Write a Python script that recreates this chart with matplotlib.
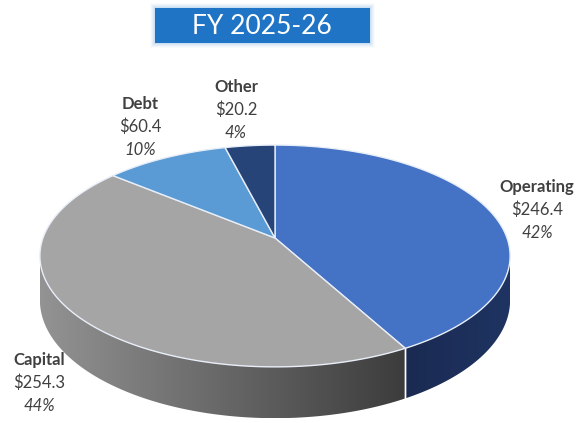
import numpy as np
import matplotlib.pyplot as plt
from matplotlib.patches import Polygon, FancyBboxPatch
from matplotlib.colors import to_rgb

# data
categories = ["Operating", "Capital", "Debt", "Other"]
amounts = [246.4, 254.3, 60.4, 20.2]
percents = [42, 44, 10, 4]
title = "FY 2025-26"

top_colors = ["#4472C4", "#A5A5A5", "#5B9BD5", "#264478"]
side_colors = [("#1A2A52", "#1F3462"), ("#939393", "#3C3C3C"),
               ("#4A84BC", "#3A6EA5"), ("#1E3764", "#1E3764")]

# pie geometry in pixel space (y grows downward)
CX, CY = 275, 238
A, B = 232, 108
P = 0.162          # perspective strength
DEPTH = 43
FONT = "Lato"
TEXT_COLOR = "#404040"


def project(phi, drop=0.0):
    # phi: clockwise angle from 12 o'clock, radians
    u, v = np.sin(phi), np.cos(phi)
    w = 1 + P * v
    x = CX + A * u / w
    y = CY - B * v / w + drop * DEPTH / w
    return x, y


fig = plt.figure(figsize=(5.76, 4.23), dpi=100)
ax = fig.add_axes([0, 0, 1, 1])
ax.set_xlim(0, 576)
ax.set_ylim(423, 0)
ax.axis("off")

shares = np.array(percents, dtype=float) / sum(percents)
bounds = np.concatenate([[0], np.cumsum(shares)]) * 2 * np.pi
front_lo = np.arccos(-P)
front_hi = 2 * np.pi - front_lo

# side walls
for i in range(len(categories)):
    lo = max(bounds[i], front_lo)
    hi = min(bounds[i + 1], front_hi)
    if hi <= lo:
        continue
    phi = np.linspace(lo, hi, 120)
    xt, yt = project(phi)
    xb, yb = project(phi[::-1], drop=1.0)
    pts = np.column_stack([np.concatenate([xt, xb]), np.concatenate([yt, yb])])
    wall = Polygon(pts, closed=True, facecolor="none", edgecolor="none")
    ax.add_patch(wall)
    c0, c1 = np.array(to_rgb(side_colors[i][0])), np.array(to_rgb(side_colors[i][1]))
    t = np.linspace(0, 1, 256)[None, :, None]
    grad = c0 + (c1 - c0) * t
    xmin, xmax = pts[:, 0].min(), pts[:, 0].max()
    ymin, ymax = pts[:, 1].min(), pts[:, 1].max()
    im = ax.imshow(grad, extent=(xmin, xmax, ymax, ymin), aspect="auto",
                   interpolation="bilinear", zorder=1)
    im.set_clip_path(wall)
    # white seam where a slice boundary sits on the front wall
    for edge in (bounds[i], bounds[i + 1]):
        if front_lo < edge < front_hi:
            x0, y0 = project(edge)
            x1, y1 = project(edge, drop=1.0)
            ax.plot([x0, x1], [y0, y1], color="white", lw=1.0, zorder=2)

# top faces
for i in range(len(categories)):
    phi = np.linspace(bounds[i], bounds[i + 1], 150)
    xs, ys = project(phi)
    pts = np.column_stack([np.concatenate([[CX], xs]), np.concatenate([[CY], ys])])
    ax.add_patch(Polygon(pts, closed=True, facecolor=top_colors[i],
                         edgecolor="#E8EEF8", lw=1.0, zorder=3))

# data labels
label_pos = [(537, 187), (39, 360), (140, 104), (236, 87)]
for i, (lx, ly) in enumerate(label_pos):
    ax.text(lx, ly, categories[i], ha="center", va="center", fontsize=12,
            fontweight="bold", color=TEXT_COLOR, family=FONT, zorder=5)
    ax.text(lx, ly + 23, f"${amounts[i]:.1f}", ha="center", va="center",
            fontsize=12, color=TEXT_COLOR, family=FONT, zorder=5)
    ax.text(lx, ly + 46, f"{percents[i]}%", ha="center", va="center",
            fontsize=12, style="italic", color=TEXT_COLOR, family=FONT, zorder=5)

# title box with a soft glow
for k, alpha in zip(range(5, 0, -1), [0.05, 0.08, 0.12, 0.16, 0.22]):
    ax.add_patch(FancyBboxPatch((155 - k, 8 - k), 215 + 2 * k, 35 + 2 * k,
                                boxstyle="square,pad=0", facecolor="#9CC3E8",
                                edgecolor="none", alpha=alpha, zorder=4))
ax.add_patch(FancyBboxPatch((155, 8), 215, 35, boxstyle="square,pad=0",
                            facecolor="#1F74C6", edgecolor="none", zorder=5))
ax.text(262, 26, title, ha="center", va="center", fontsize=19, color="white",
        family=FONT, zorder=6)

fig.savefig("out.png", dpi=100)
